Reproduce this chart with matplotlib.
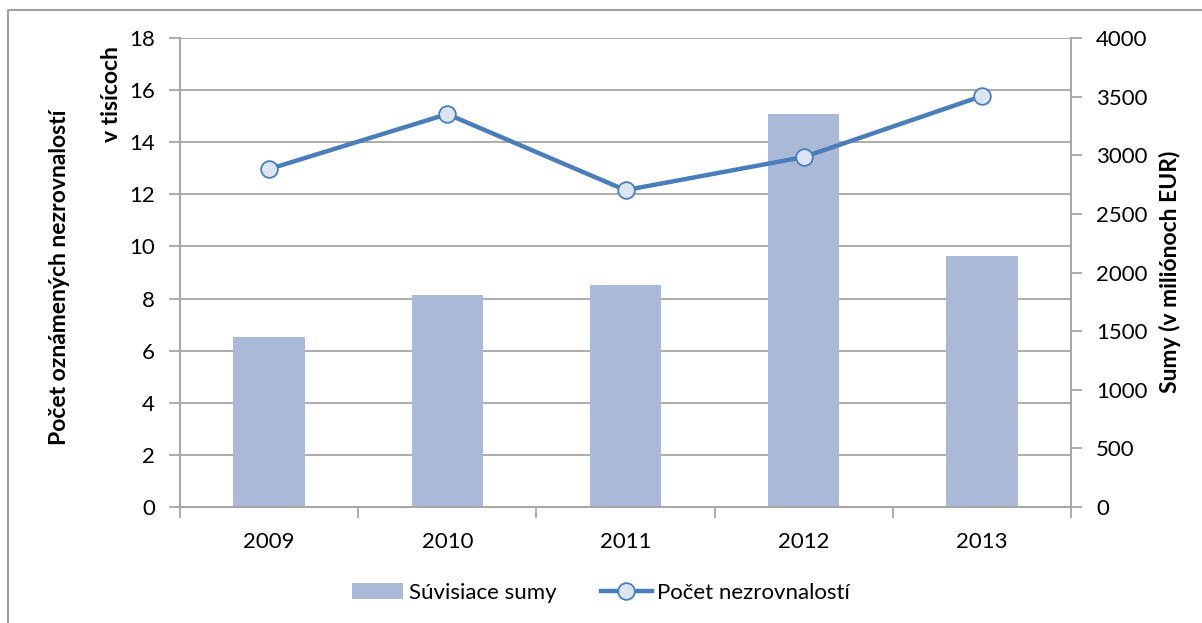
import matplotlib.pyplot as plt
from matplotlib.lines import Line2D
from matplotlib.patches import Patch

# data
years = ["2009", "2010", "2011", "2012", "2013"]
amounts = [1450, 1810, 1895, 3350, 2140]          # Súvisiace sumy (mil. EUR), right axis
counts = [12.97, 15.08, 12.16, 13.43, 15.77]      # Počet nezrovnalostí (tisíce), left axis
count_ticks = list(range(0, 19, 2))
amount_ticks = list(range(0, 4001, 500))

BAR = "#A9B9D7"
LINE = "#4A7EBB"
MARKER_FACE = "#DCE6F2"
GRID = "#A6A6A6"
FS = 16
LFS = 16.5

W, H = 1202, 623
plt.rcParams["font.family"] = ["Lato", "DejaVu Sans"]

fig = plt.figure(figsize=(W / 100, H / 100), dpi=100)
ax = fig.add_axes([180 / W, 1 - 507 / H, 891 / W, 469 / H])
ax2 = ax.twinx()

x = range(len(years))

# line axis sits on top of the bar axis
ax.set_zorder(ax2.get_zorder() + 1)
ax.patch.set_visible(False)

# bars on the right axis
ax2.bar(x, amounts, width=0.4, color=BAR, zorder=2)
ax2.set_yticks(amount_ticks)

ax.set_ylim(0, 18)
ax.set_yticks(count_ticks)
ax.set_xlim(-0.5, 4.5)
ax.set_xticks(list(x))
ax.set_xticklabels(years)
ax.set_xticks([i - 0.5 for i in range(len(years) + 1)], minor=True)

# gridlines follow the left axis ticks but are drawn behind the bars
for t in count_ticks[1:]:
    ax2.plot([0, 1], [t, t], transform=ax.get_yaxis_transform(), color=GRID,
             linewidth=1.3, zorder=1, scalex=False, scaley=False)
ax2.set_ylim(0, 4000)

ax.plot(x, counts, color=LINE, linewidth=3.2, marker="o", markersize=12,
        markerfacecolor=MARKER_FACE, markeredgecolor=LINE, markeredgewidth=1.3, zorder=5)

for a in (ax, ax2):
    a.spines["top"].set_visible(False)
    for side in ("left", "right", "bottom"):
        a.spines[side].set_color(GRID)
        a.spines[side].set_linewidth(1.3)
    a.tick_params(axis="y", length=8, width=1.3, color=GRID, labelsize=FS, pad=10)

ax.tick_params(axis="x", which="major", length=0, labelsize=FS, pad=18)
ax.tick_params(axis="x", which="minor", length=8, width=1.3, color=GRID)

fig.text(60 / W, 1 - 277 / H, "Počet oznámených nezrovnalostí", rotation=90,
         ha="center", va="center", fontsize=LFS, fontweight="bold")
fig.text(111 / W, 1 - 46 / H, "v tisícoch", rotation=90, ha="center", va="top",
         fontsize=LFS, fontweight="bold")
fig.text(1170 / W, 1 - 272 / H, "Sumy (v miliónoch EUR)", rotation=90,
         ha="center", va="center", fontsize=LFS, fontweight="bold")

handles = [Patch(facecolor=BAR, edgecolor="none"),
           Line2D([0], [0], color=LINE, linewidth=3.2, marker="o", markersize=12,
                  markerfacecolor=MARKER_FACE, markeredgecolor=LINE, markeredgewidth=1.3)]
fig.legend(handles, ["Súvisiace sumy", "Počet nezrovnalostí"], loc="center",
           bbox_to_anchor=(0.5, 1 - 593 / H), ncol=2, frameon=False, fontsize=FS,
           handlelength=2.3, handletextpad=0.25, columnspacing=2.0)

# outer chart border (left and top edges visible in the crop)
fig.add_artist(Line2D([8 / W, 8 / W, 1], [0, 1 - 10 / H, 1 - 10 / H],
                      transform=fig.transFigure, color="#A0A0A0", linewidth=1.5))

fig.savefig("out.png", dpi=100)
